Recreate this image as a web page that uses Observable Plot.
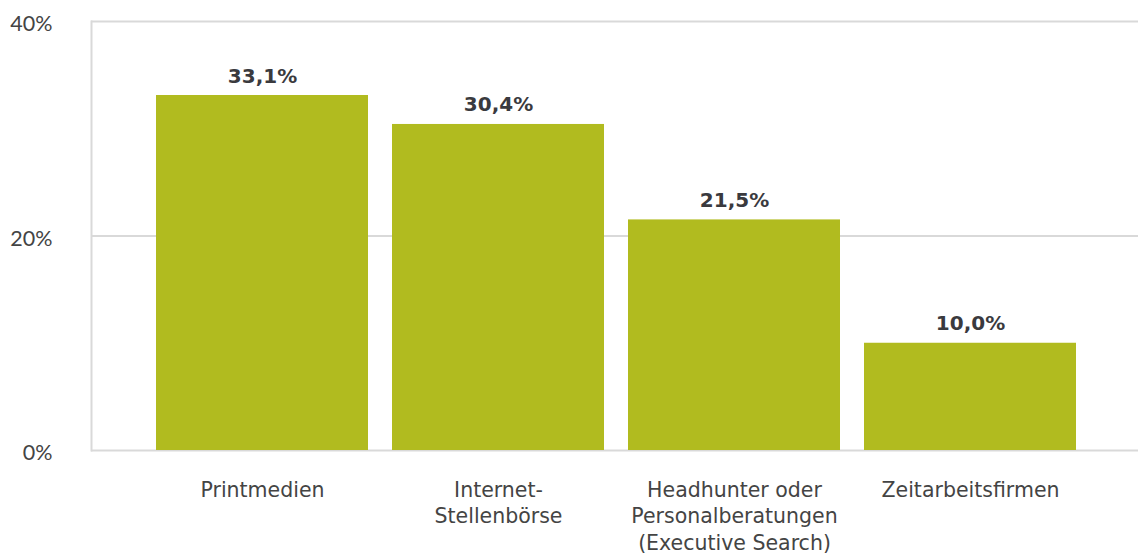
<!DOCTYPE html>
<html>
<head>
<meta charset="utf-8">
<script src="https://cdn.jsdelivr.net/npm/d3@7"></script>
<script src="https://cdn.jsdelivr.net/npm/@observablehq/plot@0.6"></script>
<style>
  html, body { margin: 0; padding: 0; background: #fff; }
  #chart svg { display: block; }
</style>
</head>
<body>
<div id="chart"></div>
<script>
const categories = ["Printmedien", "Internet-\nStellenbörse", "Headhunter oder\nPersonalberatungen\n(Executive Search)", "Zeitarbeitsfirmen"];
const values = [33.1, 30.4, 21.5, 10.0];
const yTicks = [0, 20, 40];

const data = categories.map((c, i) => ({category: c, value: values[i]}));
const fmt = v => v.toFixed(1).replace(".", ",") + "%";

const chart = Plot.plot({
  width: 1138,
  height: 554,
  marginLeft: 91,
  marginRight: 0,
  marginTop: 21,
  marginBottom: 104,
  style: {fontFamily: "'DejaVu Sans', sans-serif", background: "#fff"},
  x: {domain: categories, paddingInner: 0.1, paddingOuter: 0.262, align: 0.516, label: null},
  y: {domain: [0, 40], label: null},
  marks: [
    Plot.ruleY(yTicks, {stroke: "#d9d9d9", strokeWidth: 2}),
    Plot.frame({anchor: "left", stroke: "#d9d9d9", strokeWidth: 2}),
    Plot.barY(data, {x: "category", y: "value", fill: "#b1bb1f"}),
    Plot.text(data, {x: "category", y: "value", text: d => fmt(d.value), lineAnchor: "bottom", dy: -13, fontSize: 20, fontWeight: "bold", fill: "#3a3a3e"}),
    Plot.axisY({ticks: yTicks, tickFormat: d => d + "%", tickSize: 0, tickPadding: 39, dy: 3, fontSize: 21.5, fill: "#444", fontFamily: "Lato, sans-serif", label: null}),
    Plot.axisX({tickSize: 0, tickPadding: 27, fontSize: 20.5, lineHeight: 1.31, fill: "#444", label: null})
  ]
});
document.getElementById("chart").appendChild(chart);
</script>
</body>
</html>
